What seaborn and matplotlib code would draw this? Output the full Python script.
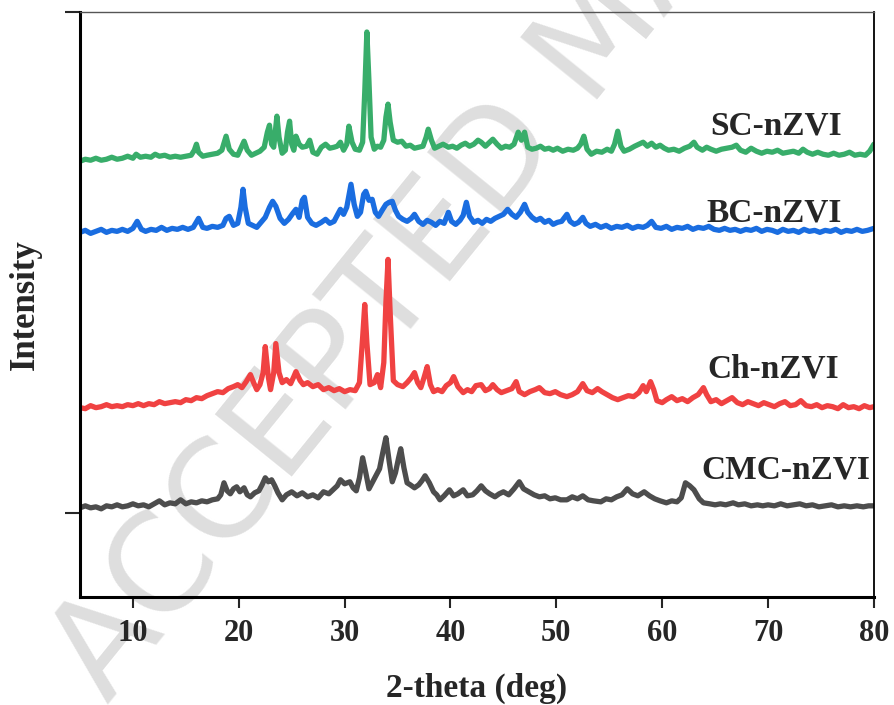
import pandas as pd
import numpy as np
import matplotlib.pyplot as plt
import seaborn as sns

# XRD patterns, intensity as plotted (a.u., patterns stacked)
cmc_x = [5.0, 5.5, 6.0, 6.5, 7.0, 7.5, 8.0, 8.5, 9.0, 9.5, 10.0, 10.5, 11.0, 11.5, 12.0, 12.5, 13.0, 13.5, 14.0, 14.5,
         15.0, 15.5, 16.0, 16.5, 17.0, 17.5, 18.0, 18.3, 18.6, 18.9, 19.2, 19.5, 19.8, 20.1, 20.5, 20.8, 21.1, 21.5, 21.9, 22.2,
         22.5, 22.8, 23.1, 23.4, 23.7, 24.1, 24.5, 25.0, 25.5, 26.0, 26.5, 27.0, 27.5, 28.0, 28.5, 29.0, 29.3, 29.6, 30.0, 30.5,
         30.8, 31.1, 31.4, 31.7, 32.0, 32.3, 32.6, 32.9, 33.3, 33.6, 33.9, 34.2, 34.5, 34.8, 35.1, 35.3, 35.6, 35.9, 36.2, 36.6,
         37.0, 37.3, 37.6, 38.0, 38.4, 38.7, 39.0, 39.4, 39.9, 40.3, 40.7, 41.2, 41.6, 42.1, 42.5, 42.9, 43.3, 43.7, 44.2, 44.6,
         45.0, 45.5, 46.0, 46.5, 46.9, 47.4, 47.9, 48.4, 48.9, 49.4, 49.9, 50.4, 51.0, 51.5, 52.0, 52.5, 53.0, 53.5, 54.2, 54.7,
         55.2, 55.7, 56.2, 56.7, 57.2, 57.7, 58.3, 58.8, 59.3, 59.8, 60.4, 60.9, 61.4, 61.8, 62.2, 62.6, 63.0, 63.5, 63.9, 64.5,
         65.0, 65.5, 66.0, 66.7, 67.2, 67.8, 68.4, 69.0, 69.5, 70.0, 70.6, 71.2, 71.8, 72.4, 73.0, 73.6, 74.2, 74.8, 75.4, 76.0,
         76.6, 77.2, 77.8, 78.4, 79.0, 79.5, 80.0]
cmc_y = [5, 7, 5, 6, 4, 7, 6, 8, 6, 7, 9, 7, 8, 6, 9, 12, 8, 10, 9, 13,
         9, 11, 10, 12, 11, 13, 14, 18, 30, 22, 19, 24, 26, 21, 25, 18, 16, 20, 22, 28,
         35, 31, 33, 27, 20, 13, 18, 21, 17, 20, 16, 18, 15, 21, 19, 24, 27, 33, 29, 31,
         25, 22, 35, 55, 40, 24, 30, 36, 44, 60, 75, 52, 31, 40, 55, 64, 45, 30, 28, 25,
         28, 32, 37, 30, 21, 18, 13, 17, 23, 17, 19, 23, 17, 18, 22, 27, 22, 19, 16, 19,
         21, 18, 24, 31, 24, 21, 18, 16, 17, 14, 15, 13, 13, 16, 14, 17, 13, 12, 11, 14,
         13, 16, 18, 24, 19, 17, 21, 17, 14, 12, 10, 12, 11, 15, 30, 27, 23, 14, 10, 9,
         8, 9, 8, 10, 8, 9, 7, 8, 7, 8, 7, 9, 7, 8, 9, 7, 8, 6, 7, 8,
         6, 7, 6, 7, 6, 7, 7]

ch_x = [5.0, 5.5, 6.0, 6.5, 7.0, 7.5, 8.0, 8.5, 9.0, 9.5, 10.0, 10.5, 11.0, 11.5, 12.0, 12.5, 13.0, 13.5, 14.0, 14.5,
        15.0, 15.5, 16.0, 16.5, 17.0, 17.5, 18.0, 18.5, 19.0, 19.5, 19.9, 20.3, 20.7, 21.1, 21.4, 21.7, 22.0, 22.3, 22.5, 22.8,
        23.0, 23.3, 23.5, 23.8, 24.1, 24.5, 24.9, 25.2, 25.4, 25.8, 26.1, 26.5, 27.0, 27.5, 28.0, 28.5, 29.0, 29.5, 30.0, 30.5,
        31.0, 31.4, 31.7, 31.9, 32.1, 32.4, 32.8, 33.1, 33.4, 33.7, 33.9, 34.1, 34.3, 34.6, 35.0, 35.5, 35.9, 36.3, 36.6, 36.9,
        37.2, 37.5, 37.8, 38.1, 38.4, 38.8, 39.2, 39.6, 40.0, 40.3, 40.7, 41.2, 41.6, 42.0, 42.4, 42.9, 43.3, 43.7, 44.0, 44.4,
        44.8, 45.3, 45.8, 46.2, 46.5, 47.0, 47.5, 48.0, 48.4, 48.9, 49.4, 49.9, 50.4, 51.0, 51.5, 52.0, 52.5, 52.9, 53.4, 53.9,
        54.3, 54.8, 55.3, 55.8, 56.3, 56.8, 57.3, 57.8, 58.2, 58.5, 58.9, 59.2, 59.5, 60.0, 60.4, 60.9, 61.4, 61.9, 62.4, 62.9,
        63.4, 63.9, 64.2, 64.6, 65.1, 65.6, 66.1, 66.6, 67.1, 67.6, 68.1, 68.6, 69.1, 69.6, 70.1, 70.6, 71.1, 71.6, 72.1, 72.6,
        73.1, 73.6, 74.1, 74.6, 75.1, 75.6, 76.1, 76.6, 77.1, 77.6, 78.1, 78.6, 79.1, 79.6, 80.0]
ch_y = [105, 104, 107, 105, 106, 108, 106, 107, 106, 108, 107, 109, 107, 109, 108, 111, 109, 110, 111, 110,
        113, 112, 115, 114, 117, 119, 121, 120, 124, 126, 128, 125, 131, 138, 130, 123, 128, 140, 166, 135,
        123, 140, 169, 140, 130, 133, 129, 136, 141, 132, 128, 130, 126, 128, 123, 125, 122, 124, 121, 123,
        122, 130, 175, 208, 170, 128, 130, 138, 125, 150, 210, 253, 200, 132, 128, 126, 130, 135, 140, 130,
        125, 135, 146, 128, 121, 123, 121, 127, 130, 136, 126, 120, 123, 121, 127, 128, 122, 124, 128, 123,
        120, 122, 124, 131, 121, 118, 121, 123, 125, 120, 119, 121, 118, 116, 118, 121, 129, 122, 120, 124,
        121, 118, 115, 113, 115, 117, 116, 120, 127, 121, 131, 123, 112, 110, 113, 116, 112, 114, 111, 115,
        118, 125, 118, 111, 113, 109, 112, 115, 110, 108, 111, 109, 107, 110, 108, 106, 109, 111, 107, 108,
        112, 107, 106, 108, 105, 107, 106, 104, 108, 105, 106, 104, 107, 105, 106]

bc_x = [5.0, 5.5, 6.0, 6.5, 7.0, 7.5, 8.0, 8.5, 9.0, 9.5, 10.0, 10.4, 10.8, 11.2, 11.7, 12.2, 12.7, 13.2, 13.7, 14.2,
        14.7, 15.2, 15.7, 16.2, 16.6, 17.0, 17.5, 18.0, 18.5, 18.8, 19.1, 19.5, 19.9, 20.2, 20.4, 20.6, 20.9, 21.3, 21.7, 22.1,
        22.5, 22.9, 23.2, 23.5, 23.9, 24.3, 24.7, 25.1, 25.4, 25.7, 26.0, 26.2, 26.5, 26.9, 27.3, 27.8, 28.2, 28.6, 29.0, 29.3,
        29.6, 29.9, 30.2, 30.6, 30.9, 31.2, 31.5, 31.8, 32.0, 32.3, 32.6, 32.9, 33.2, 33.6, 33.9, 34.2, 34.5, 34.8, 35.1, 35.5,
        35.9, 36.3, 36.6, 37.0, 37.4, 37.8, 38.2, 38.6, 39.0, 39.4, 39.8, 40.1, 40.5, 40.9, 41.2, 41.5, 41.8, 42.2, 42.6, 43.0,
        43.4, 43.8, 44.2, 44.6, 45.0, 45.4, 45.8, 46.2, 46.6, 47.0, 47.3, 47.7, 48.1, 48.5, 48.9, 49.3, 49.7, 50.1, 50.5, 51.0,
        51.3, 51.7, 52.1, 52.5, 52.8, 53.2, 53.7, 54.2, 54.7, 55.2, 55.7, 56.2, 56.7, 57.2, 57.7, 58.2, 58.6, 59.0, 59.4, 59.9,
        60.4, 60.9, 61.4, 61.9, 62.4, 62.9, 63.4, 63.9, 64.4, 64.9, 65.4, 65.9, 66.4, 66.9, 67.4, 67.9, 68.4, 68.9, 69.4, 69.9,
        70.4, 70.9, 71.4, 71.9, 72.4, 72.9, 73.4, 73.9, 74.4, 74.9, 75.4, 75.9, 76.4, 76.9, 77.4, 77.9, 78.4, 78.9, 79.4, 80.0]
bc_y = [280, 282, 279, 281, 283, 280, 282, 281, 283, 281, 284, 291, 283, 281, 283, 282, 285, 282, 284, 283,
        285, 283, 285, 294, 285, 284, 286, 285, 287, 294, 296, 287, 289, 305, 323, 305, 289, 287, 285, 290,
        295, 305, 311, 306, 294, 289, 293, 299, 303, 295, 312, 315, 295, 289, 287, 290, 293, 289, 291, 297,
        303, 298, 305, 328, 308, 296, 300, 318, 321, 312, 313, 300, 296, 303, 308, 310, 311, 302, 296, 293,
        291, 294, 298, 291, 288, 292, 290, 287, 291, 289, 300, 291, 288, 292, 297, 310, 296, 290, 292, 289,
        293, 291, 294, 296, 298, 303, 298, 295, 300, 308, 300, 295, 292, 294, 290, 292, 288, 290, 291, 298,
        291, 288, 290, 295, 289, 286, 288, 285, 287, 284, 286, 285, 287, 284, 286, 285, 287, 291, 285, 284,
        286, 283, 285, 284, 286, 283, 285, 284, 286, 283, 282, 284, 282, 283, 281, 283, 282, 284, 281, 283,
        282, 280, 283, 281, 282, 280, 283, 281, 282, 280, 282, 281, 283, 280, 282, 281, 283, 281, 282, 284]

sc_x = [5.0, 5.5, 6.0, 6.5, 7.0, 7.5, 8.0, 8.5, 9.0, 9.5, 10.0, 10.3, 10.7, 11.2, 11.7, 12.1, 12.5, 13.0, 13.5, 14.0,
        14.5, 15.0, 15.5, 15.8, 16.0, 16.2, 16.6, 17.0, 17.5, 18.0, 18.4, 18.8, 19.1, 19.5, 19.9, 20.2, 20.5, 20.8, 21.2, 21.6,
        22.0, 22.4, 22.7, 22.9, 23.1, 23.3, 23.6, 23.8, 24.1, 24.4, 24.6, 24.8, 25.0, 25.2, 25.4, 25.7, 26.0, 26.4, 26.7, 27.0,
        27.4, 27.8, 28.2, 28.6, 29.0, 29.3, 29.6, 29.9, 30.2, 30.4, 30.7, 31.0, 31.4, 31.7, 31.9, 32.1, 32.3, 32.5, 32.8, 33.1,
        33.4, 33.7, 33.9, 34.1, 34.3, 34.6, 35.0, 35.4, 35.8, 36.2, 36.6, 37.0, 37.4, 37.7, 37.9, 38.2, 38.5, 38.9, 39.3, 39.8,
        40.2, 40.6, 41.0, 41.4, 41.8, 42.2, 42.6, 42.9, 43.3, 43.7, 44.0, 44.4, 44.8, 45.2, 45.6, 46.0, 46.4, 46.7, 47.0, 47.3,
        47.7, 48.1, 48.5, 48.9, 49.3, 49.7, 50.1, 50.6, 51.1, 51.6, 52.0, 52.3, 52.6, 52.9, 53.3, 53.8, 54.3, 54.8, 55.2, 55.5,
        55.8, 56.1, 56.4, 56.9, 57.4, 57.8, 58.2, 58.6, 59.0, 59.4, 59.8, 60.2, 60.6, 61.1, 61.6, 62.1, 62.6, 63.0, 63.3, 63.8,
        64.2, 64.6, 65.1, 65.6, 66.1, 66.6, 67.0, 67.4, 67.9, 68.4, 68.9, 69.4, 69.9, 70.4, 70.9, 71.4, 71.9, 72.4, 72.9, 73.3,
        73.7, 74.2, 74.7, 75.2, 75.7, 76.2, 76.7, 77.2, 77.7, 78.2, 78.7, 79.2, 79.6, 80.0]
sc_y = [351, 353, 352, 354, 352, 353, 355, 353, 354, 356, 354, 358, 355, 356, 355, 358, 356, 357, 355, 356,
        355, 356, 357, 362, 368, 360, 356, 357, 358, 359, 362, 376, 363, 358, 357, 364, 371, 362, 357, 359,
        361, 365, 380, 387, 368, 365, 396, 375, 359, 362, 380, 391, 368, 362, 376, 368, 365, 366, 372, 360,
        358, 365, 368, 364, 365, 366, 370, 362, 368, 386, 370, 363, 362, 370, 420, 480, 430, 375, 363, 366,
        365, 372, 395, 408, 390, 372, 370, 371, 366, 367, 364, 365, 366, 375, 383, 372, 364, 366, 368, 365,
        366, 364, 367, 369, 366, 368, 372, 370, 366, 370, 373, 368, 364, 366, 365, 368, 380, 372, 380, 365,
        363, 364, 366, 363, 364, 362, 364, 361, 363, 362, 364, 368, 376, 363, 358, 361, 360, 363, 361, 368,
        381, 366, 361, 363, 366, 368, 370, 366, 369, 365, 367, 364, 362, 363, 361, 364, 366, 370, 365, 362,
        365, 363, 361, 363, 364, 365, 367, 362, 360, 364, 361, 359, 361, 360, 362, 359, 360, 361, 359, 363,
        360, 358, 360, 358, 357, 359, 357, 358, 360, 357, 358, 357, 361, 368]

samples = ['SC-nZVI', 'BC-nZVI', 'Ch-nZVI', 'CMC-nZVI']
colors = ['#38ad6a', '#1a6de0', '#f04242', '#4d4d4d']
label_x = [77.0, 77.0, 76.7, 79.7]
label_y = [378, 291, 135, 34]

frames = []
for name, xs, ys in zip(samples, [sc_x, bc_x, ch_x, cmc_x], [sc_y, bc_y, ch_y, cmc_y]):
    frames.append(pd.DataFrame({'two_theta': xs, 'intensity': ys, 'sample': name}))
df = pd.concat(frames, ignore_index=True)

sns.set_style('ticks')
plt.rcParams['font.family'] = ['Liberation Serif', 'DejaVu Serif']
plt.rcParams['font.weight'] = 'bold'

fig = plt.figure(figsize=(8.94, 7.05), dpi=100)
ax = fig.add_axes([0.0895, 0.1532, 0.888, 0.8298])
ax.patch.set_visible(False)

# watermark behind the axes
fig.text(0.12, 0.0, 'ACCEPTED MANUSCRIPT', fontsize=98, color='#dedede', rotation=51,
         family='DejaVu Sans', weight='normal', ha='left', va='baseline',
         rotation_mode='anchor', zorder=-1)

sns.lineplot(data=df, x='two_theta', y='intensity', hue='sample', palette=colors,
             hue_order=samples, estimator=None, sort=False, linewidth=3.8, legend=False, ax=ax)

for name, lx, ly, c in zip(samples, label_x, label_y, colors):
    ax.text(lx, ly, name, ha='right', va='baseline', fontsize=24, fontweight='bold')

ax.set_xlim(5, 80)
ax.set_ylim(-84, 500)
ax.set_xticks([10, 20, 30, 40, 50, 60, 70, 80])
ax.set_yticks([0, 500])
ax.set_yticklabels([])
ax.tick_params(axis='x', direction='out', length=8, width=1.5, labelsize=22, pad=8)
ax.tick_params(axis='y', direction='out', length=11, width=1.5)
for lab in ax.get_xticklabels():
    lab.set_fontweight('bold')
ax.set_xlabel('2-theta (deg)', fontsize=24, fontweight='bold', labelpad=18)
ax.set_ylabel('Intensity', fontsize=25, fontweight='bold', labelpad=13)

ax.spines['left'].set_linewidth(2.2)
ax.spines['bottom'].set_linewidth(2.2)
ax.spines['right'].set_linewidth(1.3)
ax.spines['top'].set_linewidth(1.0)
ax.spines['top'].set_color('#555555')
for s in ['left', 'bottom', 'right']:
    ax.spines[s].set_color('black')

fig.savefig('out.png', dpi=100)
